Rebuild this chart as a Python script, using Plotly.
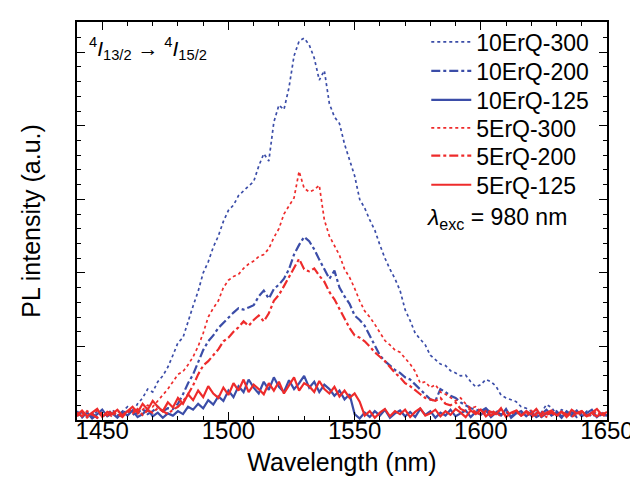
import plotly.graph_objects as go

# Wavelength grid (nm), 2 nm sampling
wavelength = list(range(1440, 1652, 2))

erq10_300 = [
    0.08, 0.03, 0.10, 0.05, 0.12, 0.04, 0.09, 0.14, 0.06, 0.12,
    0.18, 0.10, 0.22, 0.30, 0.42, 0.38, 0.52, 0.60, 0.72, 0.88,
    1.05, 1.12, 1.35, 1.55, 1.75, 2.00, 2.15, 2.35, 2.50, 2.70,
    2.85, 2.92, 3.05, 3.12, 3.18, 3.24, 3.45, 3.62, 3.52, 4.05,
    4.28, 4.22, 4.52, 4.95, 5.15, 5.19, 5.10, 4.92, 4.62, 4.75,
    4.30, 4.12, 4.03, 3.75, 3.55, 3.32, 3.00, 2.88, 2.72, 2.58,
    2.38, 2.20, 2.05, 1.92, 1.76, 1.50, 1.35, 1.18, 1.10, 1.02,
    0.88, 0.82, 0.76, 0.74, 0.67, 0.64, 0.60, 0.61, 0.52, 0.45,
    0.48, 0.55, 0.52, 0.46, 0.34, 0.30, 0.27, 0.25, 0.18, 0.16,
    0.12, 0.14, 0.10, 0.21, 0.17, 0.08, 0.14, 0.11, 0.05, 0.10,
    0.06, 0.12, 0.04, 0.09, 0.05, 0.07,
]

erq10_200 = [
    0.06, 0.11, 0.04, 0.09, 0.03, 0.10, 0.06, 0.12, 0.05, 0.09,
    0.13, 0.07, 0.10, 0.15, 0.08, 0.12, 0.18, 0.12, 0.16, 0.15,
    0.22, 0.35, 0.50, 0.62, 0.78, 0.95, 1.07, 1.15, 1.25, 1.32,
    1.40, 1.46, 1.52, 1.50, 1.53, 1.56, 1.68, 1.76, 1.65, 1.78,
    1.84, 1.92, 2.05, 2.25, 2.38, 2.49, 2.43, 2.32, 2.18, 2.04,
    1.92, 2.03, 1.80, 1.68, 1.58, 1.42, 1.36, 1.28, 1.15, 1.00,
    0.88, 0.80, 0.74, 0.68, 0.64, 0.58, 0.55, 0.48, 0.42, 0.34,
    0.28, 0.26, 0.42, 0.38, 0.33, 0.30, 0.24, 0.20, 0.16, 0.14,
    0.12, 0.16, 0.09, 0.13, 0.07, 0.11, 0.05, 0.10, 0.08, 0.12,
    0.06, 0.10, 0.04, 0.09, 0.07, 0.12, 0.05, 0.08, 0.11, 0.04,
    0.09, 0.06, 0.10, 0.04, 0.08, 0.06,
]

erq10_125 = [
    0.12, 0.04, 0.10, 0.02, 0.08, 0.14, 0.05, 0.09, 0.03, 0.11,
    0.06, 0.13, 0.04, 0.08, 0.15, 0.05, 0.10, 0.03, 0.09, 0.06,
    0.12, 0.08, 0.18, 0.14, 0.22, 0.16, 0.27, 0.21, 0.32, 0.26,
    0.40, 0.31, 0.46, 0.38, 0.55, 0.44, 0.36, 0.52, 0.41, 0.58,
    0.45, 0.38, 0.54, 0.42, 0.50, 0.60, 0.44, 0.52, 0.38, 0.48,
    0.42, 0.33, 0.40, 0.28, 0.35, 0.08, 0.02, 0.10, 0.04, 0.12,
    0.06, 0.14, 0.03, 0.09, 0.13, 0.05, 0.11, 0.04, 0.15, 0.07,
    0.12, 0.03, 0.10, 0.06, 0.14, 0.05, 0.09, 0.13, 0.04, 0.11,
    0.07, 0.13, 0.04, 0.10, 0.06, 0.15, 0.03, 0.09, 0.12, 0.05,
    0.11, 0.04, 0.08, 0.14, 0.06, 0.10, 0.03, 0.12, 0.07, 0.13,
    0.05, 0.10, 0.14, 0.04, 0.09, 0.06,
]

erq5_300 = [
    0.05, 0.10, 0.03, 0.08, 0.13, 0.06, 0.10, 0.04, 0.12, 0.08,
    0.10, 0.15, 0.08, 0.14, 0.20, 0.18, 0.26, 0.34, 0.42, 0.52,
    0.62, 0.66, 0.75, 0.86, 1.00, 1.18, 1.40, 1.52, 1.62, 1.80,
    1.90, 1.95, 1.98, 2.06, 2.12, 2.16, 2.22, 2.25, 2.33, 2.48,
    2.60, 2.80, 2.92, 3.02, 3.38, 3.15, 3.10, 3.13, 3.19, 2.72,
    2.50, 2.36, 2.24, 2.05, 1.94, 1.79, 1.62, 1.48, 1.40, 1.30,
    1.18, 1.08, 1.02, 0.95, 0.92, 0.84, 0.76, 0.66, 0.50, 0.52,
    0.44, 0.48, 0.38, 0.35, 0.30, 0.26, 0.30, 0.22, 0.16, 0.18,
    0.12, 0.08, 0.14, 0.10, 0.05, 0.12, 0.08, 0.14, 0.06, 0.10,
    0.13, 0.06, 0.09, 0.04, 0.11, 0.07, 0.12, 0.05, 0.09, 0.06,
    0.10, 0.04, 0.08, 0.12, 0.05, 0.08,
]

erq5_200 = [
    0.10, 0.05, 0.12, 0.07, 0.03, 0.11, 0.06, 0.13, 0.08, 0.04,
    0.12, 0.09, 0.15, 0.07, 0.13, 0.10, 0.16, 0.12, 0.08, 0.14,
    0.18, 0.25, 0.35, 0.47, 0.62, 0.74, 0.80, 0.88, 0.96, 1.07,
    1.12, 1.20, 1.26, 1.34, 1.28, 1.36, 1.42, 1.34, 1.45, 1.62,
    1.70, 1.82, 1.94, 2.08, 2.19, 2.05, 2.02, 2.06, 1.96, 1.88,
    1.74, 1.64, 1.52, 1.38, 1.25, 1.15, 1.12, 1.07, 1.00, 0.92,
    0.86, 0.80, 0.72, 0.64, 0.58, 0.50, 0.46, 0.40, 0.35, 0.30,
    0.28, 0.26, 0.30, 0.22, 0.20, 0.24, 0.15, 0.12, 0.16, 0.10,
    0.08, 0.12, 0.06, 0.10, 0.14, 0.05, 0.09, 0.12, 0.06, 0.10,
    0.04, 0.09, 0.12, 0.07, 0.10, 0.05, 0.11, 0.08, 0.04, 0.09,
    0.12, 0.06, 0.09, 0.05, 0.10, 0.07,
]

erq5_125 = [
    0.07, 0.13, 0.05, 0.10, 0.15, 0.04, 0.11, 0.08, 0.14, 0.06,
    0.12, 0.18, 0.10, 0.22, 0.14, 0.26, 0.18, 0.12, 0.24, 0.17,
    0.30, 0.22, 0.35, 0.27, 0.40, 0.31, 0.46, 0.36, 0.30, 0.44,
    0.34, 0.50, 0.40, 0.55, 0.38, 0.48, 0.42, 0.35, 0.50, 0.40,
    0.52, 0.36, 0.47, 0.58, 0.40, 0.50, 0.46, 0.38, 0.53, 0.42,
    0.36, 0.45, 0.32, 0.40, 0.30, 0.36, 0.25, 0.06, 0.12, 0.03,
    0.10, 0.15, 0.05, 0.12, 0.08, 0.14, 0.04, 0.11, 0.16, 0.06,
    0.09, 0.14, 0.05, 0.12, 0.07, 0.15, 0.10, 0.04, 0.13, 0.08,
    0.14, 0.05, 0.11, 0.08, 0.16, 0.04, 0.10, 0.13, 0.06, 0.12,
    0.08, 0.15, 0.05, 0.10, 0.13, 0.06, 0.11, 0.04, 0.14, 0.09,
    0.12, 0.05, 0.10, 0.15, 0.07, 0.11,
]

series_names = ["10ErQ-300", "10ErQ-200", "10ErQ-125", "5ErQ-300", "5ErQ-200", "5ErQ-125"]
series_values = [erq10_300, erq10_200, erq10_125, erq5_300, erq5_200, erq5_125]

x_tick_values = [1450, 1500, 1550, 1600, 1650]
x_tick_labels = ["1450", "1500", "1550", "1600", "1650"]

BLUE = "#3B4DA8"
RED = "#EE2B2B"
styles = [
    (BLUE, "dot", 1.7), (BLUE, "dashdot", 2.2), (BLUE, "solid", 2.2),
    (RED, "dot", 1.7), (RED, "dashdot", 2.2), (RED, "solid", 2.2),
]

FONT = "Arial, Liberation Sans, Helvetica, sans-serif"

# one single-entry legend per series so the row pitch matches the original
legend_ids = ["legend", "legend2", "legend3", "legend4", "legend5", "legend6"]
legend_rows_y = [0.950, 0.877, 0.804, 0.734, 0.664, 0.591]

fig = go.Figure()
for name, vals, (col, dash, w), lid in zip(series_names, series_values, styles, legend_ids):
    fig.add_trace(go.Scatter(
        x=wavelength, y=vals, mode="lines", name=name, legend=lid,
        line=dict(color=col, dash=dash, width=w),
    ))

legend_layout = {}
for lid, ly in zip(legend_ids, legend_rows_y):
    legend_layout[lid] = dict(
        x=0.659, y=ly, xanchor="left", yanchor="middle",
        bgcolor="rgba(0,0,0,0)", font=dict(size=23, family=FONT),
        itemwidth=40, borderwidth=0,
    )

fig.update_layout(
    width=638, height=483,
    margin=dict(l=69, r=27, t=13, b=71),
    paper_bgcolor="white", plot_bgcolor="white",
    font=dict(family=FONT, color="black", size=23),
    showlegend=True,
    **legend_layout,
)

fig.update_xaxes(
    range=[1440, 1650],
    tickvals=x_tick_values, ticktext=x_tick_labels,
    ticks="inside", ticklen=8, tickwidth=1.3, tickcolor="black",
    minor=dict(dtick=10, tick0=1440, ticks="inside", ticklen=4, tickwidth=1.3, tickcolor="black"),
    showline=True, linecolor="black", linewidth=1.5, mirror="ticks",
    showgrid=False, zeroline=False,
    tickfont=dict(size=24, family=FONT),
    ticklabelstandoff=-12,
    title=dict(text="Wavelength (nm)", font=dict(size=25, family=FONT), standoff=11),
)
fig.update_yaxes(
    range=[0, 5.41],
    dtick=1, tick0=0,
    showticklabels=False,
    ticks="inside", ticklen=8, tickwidth=1.3, tickcolor="black",
    minor=dict(dtick=0.2, ticks="inside", ticklen=4, tickwidth=1.3, tickcolor="black"),
    showline=True, linecolor="black", linewidth=1.5, mirror="ticks",
    showgrid=False, zeroline=False,
    title=dict(text="PL intensity (a.u.)", font=dict(size=25, family=FONT), standoff=28),
)

fig.add_annotation(
    xref="paper", yref="paper", x=0.019, y=0.975, xanchor="left", yanchor="top",
    text="<sup>4</sup><i>I</i><sub>13/2</sub> \u2192 <sup>4</sup><i>I</i><sub>15/2</sub>",
    showarrow=False, font=dict(size=21, family=FONT),
)
fig.add_annotation(
    xref="paper", yref="paper", x=0.655, y=0.506, xanchor="left", yanchor="middle",
    text="<i>\u03bb</i><sub>exc</sub> = 980 nm",
    showarrow=False, font=dict(size=23, family=FONT),
)

fig.write_html("out.html")
